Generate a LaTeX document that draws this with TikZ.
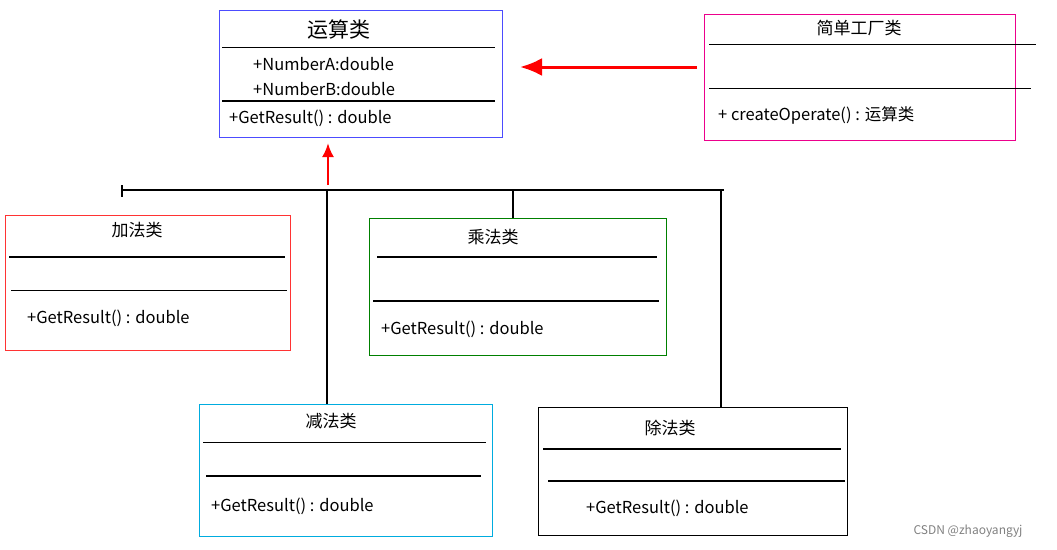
\documentclass[tikz,border=0pt]{standalone}
\usepackage{fontspec}
\setmainfont{Noto Sans CJK SC}
\usetikzlibrary{arrows.meta}
\begin{document}
\begin{tikzpicture}[x=1pt,y=-1pt,
  box/.style={draw=#1,line width=1pt},
  sep/.style={line width=0.8pt},
  thk/.style={line width=1.8pt},
  txt/.style={font=\fontsize{16.5}{18}\selectfont,inner sep=0pt},
  ttl/.style={font=\fontsize{17}{19}\selectfont,inner sep=0pt},
  bus/.style={line width=2.2pt}]
\useasboundingbox (0,0) rectangle (1057,549);
% 运算类
\draw[box=blue!70] (219,10) rectangle (502,137);
\node[font=\fontsize{21}{23}\selectfont,inner sep=0pt] (op) at (339,30) {运算类};
\draw[sep] (222,47) -- (495,47);
\node[txt,anchor=west] (na) at (253,64) {+NumberA:double};
\node[txt,anchor=west] (nb) at (253,89) {+NumberB:double};
\draw[thk] (222,101) -- (495,101);
\node[txt,anchor=west] (opm) at (229,118) {+GetResult() : double};
\coordinate (opb) at (328,143);
\coordinate (opr) at (520,67);
% 简单工厂类
\draw[box=magenta] (704,14) rectangle (1015,140);
\node[ttl] (fac) at (859,28) {简单工厂类};
\draw[sep] (709,44) -- (1036,44);
\draw[sep] (709,88) -- (1031,88);
\node[txt,anchor=west] (facm) at (718,115) {+ createOperate() : 运算类};
\coordinate (facl) at (697,67);
\draw[red,line width=3pt,-{Latex[length=22pt,width=18pt]}] (facl) -- (opr);
% bus
\coordinate (b0) at (122,190);
\coordinate (b1) at (724,190);
\coordinate (up) at (328,185);
\draw[red,line width=2.5pt,-{Latex[length=14pt,width=12pt]}] (up) -- (opb);
\draw[bus] (b0) -- (b1);
\draw[line width=1.5pt] (122,185) -- (122,197);
% 加法类
\draw[box=red!80] (5,215) rectangle (290,350);
\node[ttl] (add) at (137,230) {加法类};
\draw[thk] (9,257) -- (285,257);
\draw[sep] (11,290) -- (287,290);
\node[txt,anchor=west] (addm) at (27,318) {+GetResult() : double};
% 乘法类
\draw[box=green!50!black] (369,218) rectangle (666,355);
\node[ttl] (mul) at (493,237) {乘法类};
\draw[thk] (377,257) -- (657,257);
\draw[thk] (373,301) -- (659,301);
\node[txt,anchor=west] (mulm) at (381,329) {+GetResult() : double};
% 减法类
\draw[box=cyan!90!green] (199,404) rectangle (492,536);
\node[ttl] (sub) at (331,421) {减法类};
\draw[sep] (203,442) -- (486,442);
\draw[thk] (206,476) -- (481,476);
\node[txt,anchor=west] (subm) at (211,506) {+GetResult() : double};
% 除法类
\draw[box=black] (538,407) rectangle (847,535);
\node[ttl] (div) at (670,428) {除法类};
\draw[thk] (543,449) -- (841,449);
\draw[thk] (548,481) -- (845,481);
\node[txt,anchor=west] (divm) at (586,508) {+GetResult() : double};
% verticals
\coordinate (v1) at (327,190); \coordinate (v1e) at (327,404);
\coordinate (v2) at (513,190); \coordinate (v2e) at (513,218);
\coordinate (v3) at (721,190); \coordinate (v3e) at (721,407);
\draw[bus] (v1) -- (v1e);
\draw[bus] (v2) -- (v2e);
\draw[bus] (v3) -- (v3e);
\node[font=\fontsize{12}{14}\selectfont,text=gray,inner sep=0pt] (wm) at (968,531) {CSDN @zhaoyangyj};
\end{tikzpicture}
\end{document}
